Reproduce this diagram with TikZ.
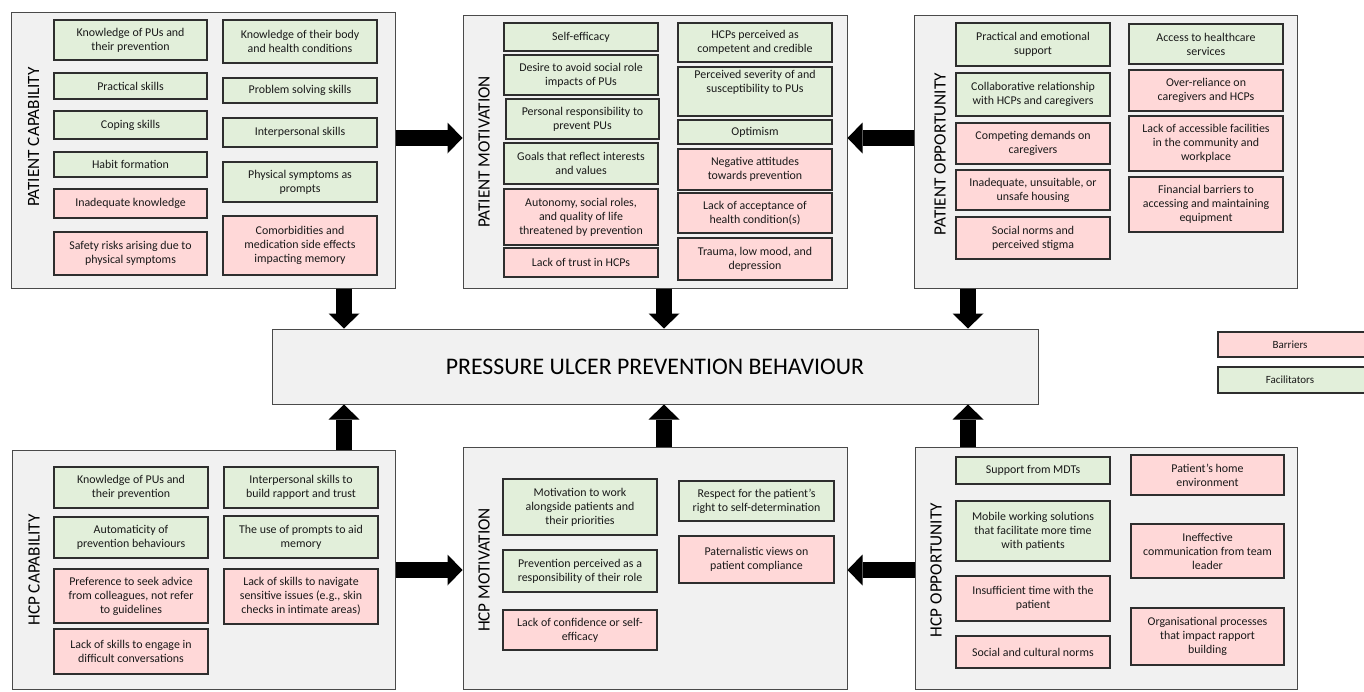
\documentclass[tikz,border=0pt]{standalone}
\usepackage{fontspec}
\setmainfont{Carlito}
\usetikzlibrary{arrows.meta}
\definecolor{outerfill}{HTML}{F1F1F1}
\definecolor{greenfill}{HTML}{E2EFDA}
\definecolor{pinkfill}{HTML}{FFD8D8}
\definecolor{outerline}{HTML}{4A4A4A}
\definecolor{innerline}{HTML}{2E2E2E}
\newcommand\bx[7]{\node[#6, minimum width={#4-#2}, minimum height={#5-#3}] (#1) at ({(#2+#4)/2},{(#3+#5)/2}) {#7};}
\tikzset{
  outerbox/.style={draw=outerline, fill=outerfill, line width=1pt, inner sep=0pt},
  facbox/.style={draw=innerline, fill=greenfill, line width=1.3pt, inner sep=0pt, align=center, text=black!90, font=\fontsize{11.9}{14}\selectfont},
  barbox/.style={draw=innerline, fill=pinkfill, line width=1.3pt, inner sep=0pt, align=center, text=black!90, font=\fontsize{11.9}{14}\selectfont},
  sidelabel/.style={rotate=90, inner sep=0pt, font=\fontsize{17.2}{20}\selectfont},
  bigarrow/.style={line width=16pt, black, -{Triangle[width=31pt,length=15pt,line width=0pt]}},
}
\begin{document}
\begin{tikzpicture}[x=1pt, y=-1pt]
\useasboundingbox (0,0) rectangle (1364,691);
\clip (0,0) rectangle (1364,691);
% outer boxes
\bx{pc}{11}{12}{395}{288}{outerbox}{}
\bx{pm}{463}{15}{847}{288}{outerbox}{}
\bx{po}{914}{15}{1297}{288}{outerbox}{}
\bx{hc}{12}{450}{395}{689}{outerbox}{}
\bx{hm}{463}{447}{847}{689}{outerbox}{}
\bx{ho}{915}{447}{1297}{689}{outerbox}{}
\bx{cen}{272}{329}{1038}{404}{outerbox,font=\fontsize{23.8}{28}\selectfont}{PRESSURE ULCER PREVENTION BEHAVIOUR}
% labels
\node[sidelabel] (lpc) at (33.5,137) {PATIENT CAPABILITY};
\node[sidelabel] (lpm) at (484,152) {PATIENT MOTIVATION};
\node[sidelabel] (lpo) at (940,154) {PATIENT OPPORTUNITY};
\node[sidelabel] (lhc) at (34,570) {HCP CAPABILITY};
\node[sidelabel] (lhm) at (484,570) {HCP MOTIVATION};
\node[sidelabel] (lho) at (936,570) {HCP OPPORTUNITY};
% patient capability
\bx{pc1}{54}{20}{207}{60}{facbox}{Knowledge of PUs and\\their prevention}
\bx{pc2}{54}{73}{207}{99}{facbox}{Practical skills}
\bx{pc3}{54}{111}{207}{139}{facbox}{Coping skills}
\bx{pc4}{54}{152}{207}{177}{facbox}{Habit formation}
\bx{pc5}{54}{189}{207}{218}{barbox}{Inadequate knowledge}
\bx{pc6}{54}{232}{207}{275}{barbox}{Safety risks arising due to\\physical symptoms}
\bx{pc7}{223}{20}{377}{63}{facbox}{Knowledge of their body\\and health conditions}
\bx{pc8}{223}{78}{377}{103}{facbox}{Problem solving skills}
\bx{pc9}{223}{118}{377}{147}{facbox}{Interpersonal skills}
\bx{pc10}{223}{162}{377}{202}{facbox}{Physical symptoms as\\prompts}
\bx{pc11}{223}{216}{377}{275}{barbox}{Comorbidities and\\medication side effects\\impacting memory}
% patient motivation
\bx{pm1}{504}{23}{658}{51}{facbox}{Self-efficacy}
\bx{pm2}{504}{55}{658}{95}{facbox}{Desire to avoid social role\\impacts of PUs}
\bx{pm3}{506}{99}{659}{139}{facbox}{Personal responsibility to\\prevent PUs}
\bx{pm4}{504}{143}{658}{184}{facbox}{Goals that reflect interests\\and values}
\bx{pm5}{504}{189}{658}{245}{barbox}{Autonomy, social roles,\\and quality of life\\threatened by prevention}
\bx{pm6}{504}{248}{658}{277}{barbox}{Lack of trust in HCPs}
\bx{pm7}{678}{23}{832}{62}{facbox}{HCPs perceived as\\competent and credible}
\bx{pm8}{678}{67}{832}{116}{facbox}{Perceived severity of and\\susceptibility to PUs\\[6pt]}
\bx{pm9}{678}{120}{832}{144}{facbox}{Optimism}
\bx{pm10}{678}{149}{832}{190}{barbox}{Negative attitudes\\towards prevention}
\bx{pm11}{678}{193}{832}{233}{barbox}{Lack of acceptance of\\health condition(s)}
\bx{pm12}{678}{238}{832}{280}{barbox}{Trauma, low mood, and\\depression}
% patient opportunity
\bx{po1}{956}{23}{1110}{66}{facbox}{Practical and emotional\\support}
\bx{po2}{956}{73}{1110}{116}{facbox}{Collaborative relationship\\with HCPs and caregivers}
\bx{po3}{956}{123}{1110}{164}{barbox}{Competing demands on\\caregivers}
\bx{po4}{956}{170}{1110}{210}{barbox}{Inadequate, unsuitable, or\\unsafe housing}
\bx{po5}{956}{217}{1110}{259}{barbox}{Social norms and\\perceived stigma}
\bx{po6}{1129}{24}{1283}{64}{facbox}{Access to healthcare\\services}
\bx{po7}{1129}{70}{1283}{111}{barbox}{Over-reliance on\\caregivers and HCPs}
\bx{po8}{1129}{116}{1283}{171}{barbox}{Lack of accessible facilities\\in the community and\\workplace}
\bx{po9}{1129}{177}{1283}{232}{barbox}{Financial barriers to\\accessing and maintaining\\equipment}
% HCP capability
\bx{hc1}{54}{467}{208}{508}{facbox}{Knowledge of PUs and\\their prevention}
\bx{hc2}{54}{517}{208}{558}{facbox}{Automaticity of\\prevention behaviours}
\bx{hc3}{54}{569}{208}{623}{barbox}{Preference to seek advice\\from colleagues, not refer\\to guidelines}
\bx{hc4}{54}{629}{208}{674}{barbox}{Lack of skills to engage in\\difficult conversations}
\bx{hc5}{224}{467}{378}{508}{facbox}{Interpersonal skills to\\build rapport and trust}
\bx{hc6}{224}{516}{378}{558}{facbox}{The use of prompts to aid\\memory}
\bx{hc7}{224}{569}{378}{624}{barbox}{Lack of skills to navigate\\sensitive issues (e.g., skin\\checks in intimate areas)}
% HCP motivation
\bx{hm1}{503}{479}{657}{535}{facbox}{Motivation to work\\alongside patients and\\their priorities}
\bx{hm2}{503}{550}{657}{592}{facbox}{Prevention perceived as a\\responsibility of their role}
\bx{hm3}{503}{610}{657}{650}{barbox}{Lack of confidence or self-\\efficacy}
\bx{hm4}{679}{481}{834}{521}{facbox}{Respect for the patient’s\\right to self-determination}
\bx{hm5}{679}{536}{834}{583}{barbox}{Paternalistic views on\\patient compliance}
% HCP opportunity
\bx{ho1}{956}{457}{1110}{484}{facbox}{Support from MDTs}
\bx{ho2}{956}{501}{1110}{561}{facbox}{Mobile working solutions\\that facilitate more time\\with patients}
\bx{ho3}{956}{576}{1110}{621}{barbox}{Insufficient time with the\\patient}
\bx{ho4}{956}{636}{1110}{668}{barbox}{Social and cultural norms}
\bx{ho5}{1131}{455}{1284}{495}{barbox}{Patient’s home\\environment}
\bx{ho6}{1131}{524}{1284}{578}{barbox}{Ineffective\\communication from team\\leader}
\bx{ho7}{1131}{608}{1284}{665}{barbox}{Organisational processes\\that impact rapport\\building}
% legend
\bx{lgb}{1218}{332}{1368}{357}{barbox,font=\fontsize{11}{13}\selectfont}{\hspace*{-6pt}Barriers}
\bx{lgf}{1218}{367}{1368}{393}{facbox,font=\fontsize{11}{13}\selectfont}{\hspace*{-6pt}Facilitators}
% arrow guide coordinates
\coordinate (ax1) at (344,0);
\coordinate (ax2) at (664,0);
\coordinate (ax3) at (968,0);
\coordinate (ay1) at (0,138);
\coordinate (ay2) at (0,570);
% arrows
\draw[bigarrow] (pc.south -| ax1) -- (cen.north -| ax1);
\draw[bigarrow] (pm.south -| ax2) -- (cen.north -| ax2);
\draw[bigarrow] (po.south -| ax3) -- (cen.north -| ax3);
\draw[bigarrow] (hc.north -| ax1) -- (cen.south -| ax1);
\draw[bigarrow] (hm.north -| ax2) -- (cen.south -| ax2);
\draw[bigarrow] (ho.north -| ax3) -- (cen.south -| ax3);
\draw[bigarrow] (pc.east |- ay1) -- (pm.west |- ay1);
\draw[bigarrow] (po.west |- ay1) -- (pm.east |- ay1);
\draw[bigarrow] (hc.east |- ay2) -- (hm.west |- ay2);
\draw[bigarrow] (ho.west |- ay2) -- (hm.east |- ay2);
\end{tikzpicture}
\end{document}
